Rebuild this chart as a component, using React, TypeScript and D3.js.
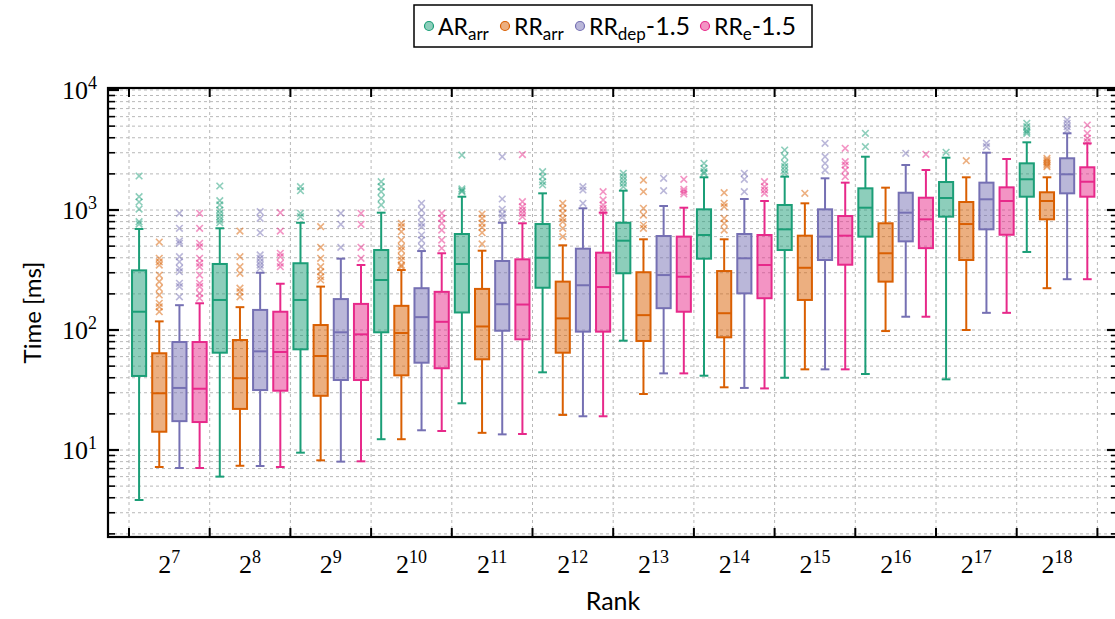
import React, { useEffect, useRef } from "react";
import * as d3 from "d3";

// rank exponents (x axis shows 2^k)
const ranks = [7, 8, 9, 10, 11, 12, 13, 14, 15, 16, 17, 18];
const seriesNames = ["arArr", "rrArr", "rrDep", "rrE"];
const seriesColors = ["#1b9e77", "#d95f02", "#7570b3", "#e7298a"];
// legend: [main, subscript, suffix]
const legendLabels = [
  ["AR", "arr", ""],
  ["RR", "arr", ""],
  ["RR", "dep", "-1.5"],
  ["RR", "e", "-1.5"],
];

// box stats per rank: [whisker low, q1, median, q3, whisker high] in ms
const arArrStats = [
  [3.83, 41.4, 142, 314, 695],
  [6.0, 64.7, 178, 355, 704],
  [9.5, 69, 178, 360, 783],
  [12.3, 95.7, 261, 464, 950],
  [24.5, 140, 355, 631, 1291],
  [44.4, 225, 400, 764, 1377],
  [81.5, 297, 555, 783, 1449],
  [41.6, 393, 619, 1013, 1873],
  [40, 464, 690, 1101, 1896],
  [43, 600, 1045, 1516, 2780],
  [38.8, 880, 1259, 1711, 2729],
  [447, 1291, 1803, 2449, 3665],
];
const rrArrStats = [
  [7.22, 14.2, 29.7, 64, 118],
  [7.39, 22, 39.6, 82.5, 155],
  [8.2, 28.3, 60.7, 110, 230],
  [12.3, 41.9, 94.4, 159, 316],
  [13.9, 57, 107, 220, 458],
  [19.6, 64.7, 125, 253, 508],
  [29.3, 81, 133, 303, 570],
  [33.3, 86.9, 138, 310, 570],
  [47, 178, 330, 611, 1137],
  [98, 253, 436, 775, 1535],
  [100, 383, 764, 1166, 1873],
  [223, 836, 1188, 1405, 1873],
];
const rrDepStats = [
  [7.08, 17.4, 32.9, 79.4, 161],
  [7.36, 31.6, 66.4, 147, 300],
  [8.0, 38.3, 95.7, 181, 393],
  [14.6, 53.4, 128, 223, 455],
  [13.5, 98.6, 164, 376, 783],
  [19.1, 96.9, 236, 476, 1033],
  [43.5, 152, 287, 607, 1080],
  [32.9, 202, 396, 631, 1235],
  [47, 383, 600, 1013, 1837],
  [129, 548, 950, 1393, 2371],
  [139, 690, 1228, 1690, 3003],
  [265, 1377, 1984, 2698, 4355],
];
const rrEStats = [
  [7.08, 17.1, 32.4, 79.4, 167],
  [7.22, 31.2, 65.6, 142, 243],
  [8.05, 38.3, 92, 165, 348],
  [14.4, 48, 117, 208, 436],
  [13.6, 83.6, 163, 388, 775],
  [19.1, 96.9, 228, 441, 950],
  [43.5, 142, 278, 600, 1045],
  [32.6, 184, 348, 619, 1188],
  [47, 350, 611, 891, 1690],
  [129, 481, 836, 1266, 2154],
  [139, 622, 1188, 1545, 2661],
  [265, 1291, 1720, 2270, 3594],
];

// outliers per rank
const arArrOutliers = [
  [1920, 1291, 1166, 1019, 799, 764],
  [1585, 1195, 1101, 1000, 939, 880, 825, 783],
  [1563, 1449, 939, 880],
  [1720, 1563, 1421, 1252, 1101],
  [2870, 1500, 1450, 1420],
  [2085, 1896, 1720, 1616],
  [2022, 1896, 1778, 1668, 1563],
  [2449, 2226, 2085, 2022],
  [3162, 2780, 2449, 2296, 2154, 2022],
  [4355, 3370],
  [3027],
  [5278, 4943, 4642, 4500, 4355],
];
const rrArrOutliers = [
  [541, 396, 370, 348, 287, 253, 223, 196, 167, 156, 142],
  [668, 408, 337, 297, 223, 208, 189],
  [726, 489, 396, 337, 306, 278, 261],
  [775, 726, 659, 562, 494, 464, 408, 383, 348, 337],
  [926, 853, 775, 718, 647, 521],
  [1137, 1033, 939, 853, 799, 704, 600],
  [1778, 1421, 1033, 908, 750, 704],
  [1393, 1137, 1065, 853, 775, 681],
  [1377],
  [],
  [2575],
  [2698, 2610, 2528, 2449, 2371, 2296],
];
const rrDepOutliers = [
  [939, 704, 552, 528, 408, 370, 327, 306, 245, 230, 189],
  [968, 853, 647, 422, 396, 370, 348, 327],
  [939, 760, 489],
  [1137, 1000, 880, 775, 726, 619, 562, 494],
  [2780, 1235, 1013, 926, 869],
  [1563, 1468, 1137],
  [1837, 1449],
  [2022, 1803, 1421],
  [3594, 2780, 2449, 2154],
  [2968],
  [3594, 3370],
  [5623, 5278, 4943, 4642],
];
const rrEOutliers = [
  [939, 704, 528, 494, 396, 360, 337, 287, 245, 230, 202, 184],
  [950, 668, 436, 408, 360, 337],
  [939, 760, 489, 396],
  [939, 853, 775, 681, 562, 480],
  [2900, 1172, 1065, 1000, 939, 880],
  [1421, 1212, 1101, 1033, 968],
  [1803, 1486, 1421, 1360],
  [1720, 1563, 1468, 1377],
  [3268, 2528, 2371, 2154, 1896],
  [2911],
  [],
  [5109, 4355, 3958, 3707],
];

const yMajorExps = [1, 2, 3, 4];

const allStats = [arArrStats, rrArrStats, rrDepStats, rrEStats];
const allOutliers = [arArrOutliers, rrArrOutliers, rrDepOutliers, rrEOutliers];

const WIDTH = 1115;
const HEIGHT = 619;
const SANS = "Lato, 'Noto Sans', sans-serif";
const SERIF = "'Liberation Serif', 'DejaVu Serif', serif";

const BoxChart = () => {
  const svgRef = useRef(null);

  useEffect(() => {
    const svg = d3.select(svgRef.current);
    svg.selectAll("*").remove();

    const plot = { left: 108, right: 1118, top: 88, bottom: 537 };

    // outer band for rank groups, padded to the frame
    const x = d3
      .scaleBand()
      .domain(ranks.map(String))
      .range([129, 1097.4])
      .paddingInner(0)
      .paddingOuter(0);
    const xInner = d3
      .scaleBand()
      .domain(seriesNames)
      .range([0, x.bandwidth()])
      .paddingInner(0.3)
      .paddingOuter(0.15);

    const y = d3
      .scaleLog()
      .domain([Math.pow(10, 0.275), Math.pow(10, 4.0167)])
      .range([plot.bottom, plot.top]);

    const [yMin, yMax] = y.domain();
    const minorVals = [];
    for (let e = 0; e <= 4; e++) {
      for (let m = 1; m <= 9; m++) {
        const v = m * Math.pow(10, e);
        if (v >= yMin && v <= yMax) minorVals.push(v);
      }
    }

    const clipId = "plot-clip";
    svg
      .append("defs")
      .append("clipPath")
      .attr("id", clipId)
      .append("rect")
      .attr("x", plot.left)
      .attr("y", plot.top)
      .attr("width", plot.right - plot.left)
      .attr("height", plot.bottom - plot.top);

    // grid
    const grid = svg.append("g").attr("clip-path", `url(#${clipId})`);
    grid
      .selectAll("line.h")
      .data(minorVals)
      .join("line")
      .attr("x1", plot.left)
      .attr("x2", plot.right)
      .attr("y1", (d) => y(d))
      .attr("y2", (d) => y(d))
      .attr("stroke", "#b8b8b8")
      .attr("stroke-width", 1)
      .attr("stroke-dasharray", "3,3");
    const bounds = ranks.map((r) => x(String(r))).concat([x(String(ranks[ranks.length - 1])) + x.bandwidth()]);
    grid
      .selectAll("line.v")
      .data(bounds)
      .join("line")
      .attr("x1", (d) => d)
      .attr("x2", (d) => d)
      .attr("y1", plot.top)
      .attr("y2", plot.bottom)
      .attr("stroke", "#b8b8b8")
      .attr("stroke-width", 1)
      .attr("stroke-dasharray", "3,3");

    // boxes
    const boxW = xInner.bandwidth();
    const capW = boxW * 0.62;
    seriesNames.forEach((name, si) => {
      const color = seriesColors[si];
      const g = svg.append("g").attr("clip-path", `url(#${clipId})`);
      ranks.forEach((r, ri) => {
        const [lo, q1, med, q3, hi] = allStats[si][ri];
        const cx = x(String(r)) + xInner(name) + boxW / 2;
        // outliers
        allOutliers[si][ri].forEach((v) => {
          const oy = y(v);
          const s = 3.3;
          g.append("path")
            .attr("d", `M${cx - s},${oy - s}L${cx + s},${oy + s}M${cx - s},${oy + s}L${cx + s},${oy - s}`)
            .attr("stroke", color)
            .attr("stroke-opacity", 0.5)
            .attr("stroke-width", 1.6)
            .attr("fill", "none");
        });
        // whiskers
        g.append("line")
          .attr("x1", cx)
          .attr("x2", cx)
          .attr("y1", y(lo))
          .attr("y2", y(q1))
          .attr("stroke", color)
          .attr("stroke-width", 2);
        g.append("line")
          .attr("x1", cx)
          .attr("x2", cx)
          .attr("y1", y(q3))
          .attr("y2", y(hi))
          .attr("stroke", color)
          .attr("stroke-width", 2);
        [lo, hi].forEach((v) => {
          g.append("line")
            .attr("x1", cx - capW / 2)
            .attr("x2", cx + capW / 2)
            .attr("y1", y(v))
            .attr("y2", y(v))
            .attr("stroke", color)
            .attr("stroke-width", 2);
        });
        g.append("rect")
          .attr("x", cx - boxW / 2)
          .attr("y", y(q3))
          .attr("width", boxW)
          .attr("height", y(q1) - y(q3))
          .attr("fill", color)
          .attr("fill-opacity", 0.5)
          .attr("stroke", color)
          .attr("stroke-width", 2);
        g.append("line")
          .attr("x1", cx - boxW / 2)
          .attr("x2", cx + boxW / 2)
          .attr("y1", y(med))
          .attr("y2", y(med))
          .attr("stroke", color)
          .attr("stroke-width", 2);
      });
    });

    // frame and ticks
    const axes = svg.append("g").attr("stroke", "#000");
    axes
      .append("rect")
      .attr("x", plot.left)
      .attr("y", plot.top)
      .attr("width", plot.right - plot.left)
      .attr("height", plot.bottom - plot.top)
      .attr("fill", "none")
      .attr("stroke-width", 2.2);
    const isMajor = (v) => Math.abs(Math.log10(v) - Math.round(Math.log10(v))) < 1e-9;
    minorVals.forEach((v) => {
      const len = isMajor(v) ? 11 : 7;
      const w = isMajor(v) ? 2.2 : 1.6;
      axes.append("line").attr("x1", plot.left).attr("x2", plot.left + len).attr("y1", y(v)).attr("y2", y(v)).attr("stroke-width", w);
      axes.append("line").attr("x1", plot.right).attr("x2", plot.right - len).attr("y1", y(v)).attr("y2", y(v)).attr("stroke-width", w);
    });
    bounds.forEach((b) => {
      axes.append("line").attr("x1", b).attr("x2", b).attr("y1", plot.bottom).attr("y2", plot.bottom - 9).attr("stroke-width", 2);
      axes.append("line").attr("x1", b).attr("x2", b).attr("y1", plot.top).attr("y2", plot.top + 9).attr("stroke-width", 2);
    });

    // y tick labels
    yMajorExps.forEach((e) => {
      const t = svg
        .append("text")
        .attr("x", 97)
        .attr("y", y(Math.pow(10, e)) + 9)
        .attr("text-anchor", "end")
        .attr("font-family", SERIF)
        .attr("font-size", 26)
        .attr("fill", "#000");
      t.append("tspan").text("10");
      t.append("tspan").attr("dy", -10).attr("font-size", 18).text(String(e));
    });

    // x tick labels
    ranks.forEach((r) => {
      const t = svg
        .append("text")
        .attr("x", x(String(r)) + x.bandwidth() / 2)
        .attr("y", 573)
        .attr("text-anchor", "middle")
        .attr("font-family", SERIF)
        .attr("font-size", 26)
        .attr("fill", "#000");
      t.append("tspan").text("2");
      t.append("tspan").attr("dy", -10).attr("font-size", 18).text(String(r));
    });

    // axis titles
    svg
      .append("text")
      .attr("transform", `translate(41,${(plot.top + plot.bottom) / 2}) rotate(-90)`)
      .attr("text-anchor", "middle")
      .attr("font-family", SANS)
      .attr("font-size", 24)
      .text("Time [ms]");
    svg
      .append("text")
      .attr("x", 613)
      .attr("y", 610)
      .attr("text-anchor", "middle")
      .attr("font-family", SANS)
      .attr("font-size", 25)
      .text("Rank");

    // legend
    const legend = svg.append("g");
    legend
      .append("rect")
      .attr("x", 414)
      .attr("y", 5)
      .attr("width", 398)
      .attr("height", 42)
      .attr("fill", "#fff")
      .attr("stroke", "#000")
      .attr("stroke-width", 1.5);
    const markerX = [429, 505, 580, 705];
    legendLabels.forEach(([main, sub, suffix], i) => {
      legend
        .append("circle")
        .attr("cx", markerX[i])
        .attr("cy", 26)
        .attr("r", 4.5)
        .attr("fill", seriesColors[i])
        .attr("fill-opacity", 0.5)
        .attr("stroke", seriesColors[i])
        .attr("stroke-width", 1.2);
      const t = legend
        .append("text")
        .attr("x", markerX[i] + 9)
        .attr("y", 35)
        .attr("font-family", SANS)
        .attr("font-size", 23)
        .attr("fill", "#000");
      t.append("tspan").text(main);
      t.append("tspan").attr("dy", 5).attr("font-size", 17).text(sub);
      if (suffix) t.append("tspan").attr("dy", -5).attr("font-size", 25).text(suffix);
    });
  }, []);

  return <svg ref={svgRef} width={WIDTH} height={HEIGHT} style={{ display: "block" }} />;
};

export default function App() {
  return (
    <div style={{ position: "absolute", left: 0, top: 0, width: WIDTH, height: HEIGHT, background: "#fff" }}>
      <BoxChart />
    </div>
  );
}
